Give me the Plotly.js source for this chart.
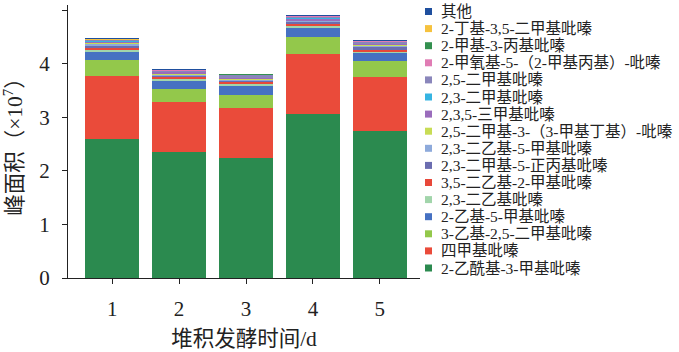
<!DOCTYPE html>
<html>
<head>
<meta charset="utf-8">
<script src="https://cdn.plot.ly/plotly-3.0.1.min.js"></script>
<style>html,body{margin:0;padding:0;background:#fff;}#chart{width:679px;height:352px;}</style>
</head>
<body>
<div id="chart"></div>
<script>
// Days of stacking fermentation
const days = ['1', '2', '3', '4', '5'];

// Peak areas (x10^7), stacked bottom -> top
const acetylMethyl      = [2.60, 2.35, 2.25, 3.07, 2.74]; // 2-乙酰基-3-甲基吡嗪
const tetramethyl       = [1.18, 0.93, 0.92, 1.11, 1.01]; // 四甲基吡嗪
const ethylDimethyl     = [0.29, 0.25, 0.25, 0.32, 0.30]; // 3-乙基-2,5-二甲基吡嗪
const ethylMethyl       = [0.15, 0.15, 0.17, 0.17, 0.15]; // 2-乙基-5-甲基吡嗪
const diethyl           = [0.04, 0.04, 0.04, 0.04, 0.03]; // 2,3-二乙基吡嗪
const diethylMethyl     = [0.04, 0.03, 0.03, 0.03, 0.03]; // 3,5-二乙基-2-甲基吡嗪
const dimethylPropyl    = [0.04, 0.03, 0.02, 0.04, 0.06]; // 2,3-二甲基-5-正丙基吡嗪
const diethyl5Methyl    = [0.03, 0.02, 0.02, 0.02, 0.02]; // 2,3-二乙基-5-甲基吡嗪
const dimethylMethylbut = [0.02, 0.02, 0.01, 0.01, 0.01]; // 2,5-二甲基-3-(3-甲基丁基)-吡嗪
const trimethyl         = [0.02, 0.02, 0.02, 0.03, 0.02]; // 2,3,5-三甲基吡嗪
const dimethyl23        = [0.01, 0.01, 0.01, 0.01, 0.01]; // 2,3-二甲基吡嗪
const dimethyl25        = [0.02, 0.02, 0.05, 0.03, 0.03]; // 2,5-二甲基吡嗪
const methoxy           = [0.01, 0.01, 0.01, 0.01, 0.01]; // 2-甲氧基-5-(2-甲基丙基)-吡嗪
const methylPropyl      = [0.005, 0.005, 0.005, 0.005, 0.005]; // 2-甲基-3-丙基吡嗪
const butylDimethyl     = [0.005, 0.005, 0.005, 0.005, 0.005]; // 2-丁基-3,5-二甲基吡嗪
const others            = [0.02, 0.02, 0.01, 0.02, 0.01]; // 其他

const seriesNames = [
  '2-乙酰基-3-甲基吡嗪', '四甲基吡嗪', '3-乙基-2,5-二甲基吡嗪', '2-乙基-5-甲基吡嗪',
  '2,3-二乙基吡嗪', '3,5-二乙基-2-甲基吡嗪', '2,3-二甲基-5-正丙基吡嗪', '2,3-二乙基-5-甲基吡嗪',
  '2,5-二甲基-3-（3-甲基丁基）-吡嗪', '2,3,5-三甲基吡嗪', '2,3-二甲基吡嗪', '2,5-二甲基吡嗪',
  '2-甲氧基-5-（2-甲基丙基）-吡嗪', '2-甲基-3-丙基吡嗪', '2-丁基-3,5-二甲基吡嗪', '其他'
];
const seriesValues = [
  acetylMethyl, tetramethyl, ethylDimethyl, ethylMethyl, diethyl, diethylMethyl,
  dimethylPropyl, diethyl5Methyl, dimethylMethylbut, trimethyl, dimethyl23, dimethyl25,
  methoxy, methylPropyl, butylDimethyl, others
];
const seriesColors = [
  '#2b8a4f', '#ea4b3a', '#93c84b', '#4671c2', '#a2d5ab', '#e8483a', '#6b6db0', '#8eaadb',
  '#c8dc55', '#9a6cbc', '#36b4e2', '#8a86bb', '#e07cb4', '#33904f', '#f6c23e', '#1f4f9e'
];

const serif = 'Liberation Serif, Times New Roman, Noto Sans CJK SC, serif';
const cjk = 'Liberation Serif, Noto Sans CJK SC, serif';

// plot-area geometry (pixels) used to place the legend block
const W = 679, H = 352;
const M = {l: 68, r: 259, t: 5, b: 74};
const plotW = W - M.l - M.r, plotH = H - M.t - M.b;
const px2x = p => (p - M.l) / plotW;
const px2y = p => (H - M.b - p) / plotH;

const traces = seriesValues.map((vals, i) => ({
  type: 'bar',
  x: days,
  y: vals,
  name: seriesNames[i],
  marker: {color: seriesColors[i], line: {width: 0}},
  hoverinfo: 'name+y',
  showlegend: false
}));

// legend drawn as shapes + annotations, top entry = last series
const legendTop = 11.5, legendStep = 17.1;
const shapes = [], annotations = [];
for (let k = 0; k < seriesNames.length; k++) {
  const i = seriesNames.length - 1 - k;
  const cy = legendTop + k * legendStep;
  shapes.push({
    type: 'rect', xref: 'paper', yref: 'paper',
    x0: px2x(425), x1: px2x(432), y0: px2y(cy + 3.5), y1: px2y(cy - 3.5),
    fillcolor: seriesColors[i], line: {width: 0}
  });
  annotations.push({
    xref: 'paper', yref: 'paper', x: px2x(439), y: px2y(cy),
    xanchor: 'left', yanchor: 'middle', showarrow: false,
    text: seriesNames[i],
    font: {family: cjk, size: 15.5, color: '#222'}
  });
}

const layout = {
  width: W,
  height: H,
  margin: M,
  paper_bgcolor: '#fff',
  plot_bgcolor: '#fff',
  barmode: 'stack',
  bargap: 0.19,
  showlegend: false,
  shapes: shapes,
  annotations: annotations,
  xaxis: {
    type: 'category',
    range: [-0.66, 4.6],
    automargin: false,
    showline: true, linecolor: '#222', linewidth: 1,
    ticks: 'outside', ticklen: 5, tickcolor: '#222',
    ticklabelstandoff: 7,
    showgrid: false, zeroline: false,
    tickfont: {family: serif, size: 21, color: '#222'},
    title: {text: '堆积发酵时间/d', font: {family: cjk, size: 21.5, color: '#222'}, standoff: 10}
  },
  yaxis: {
    range: [0, 5.1],
    automargin: false,
    tickvals: [0, 1, 2, 3, 4, 5],
    showline: true, linecolor: '#222', linewidth: 1,
    ticks: 'outside', ticklen: 5, tickcolor: '#222',
    ticklabelstandoff: 8,
    showgrid: false, zeroline: false,
    tickfont: {family: serif, size: 21, color: '#222'},
    title: {text: '峰面积（×10<sup>7</sup>）', font: {family: cjk, size: 21.5, color: '#222'}, standoff: 10}
  }
};

Plotly.newPlot('chart', traces, layout, {displayModeBar: false, staticPlot: true});
</script>
</body>
</html>
